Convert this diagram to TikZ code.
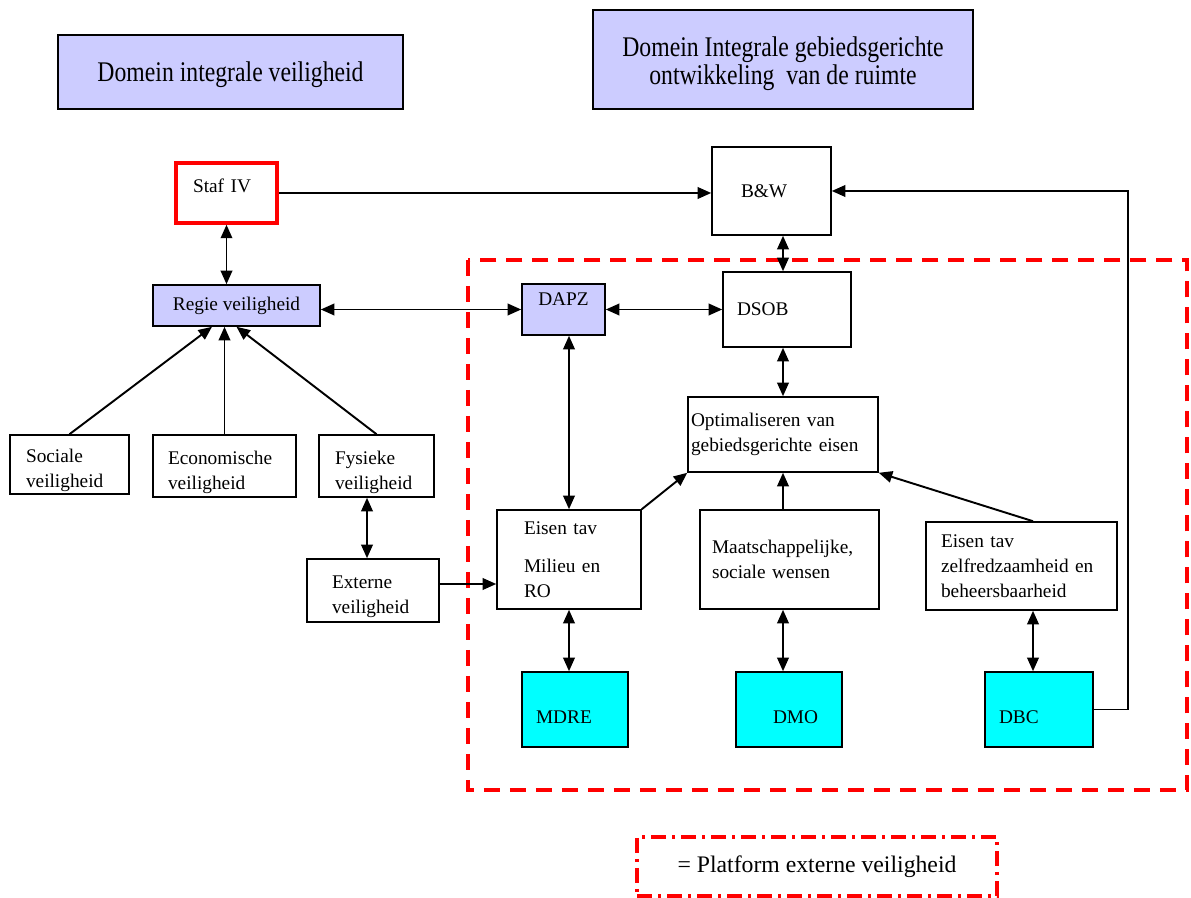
\documentclass[tikz,border=0pt]{standalone}
\usepackage{fontspec}
\setmainfont{Liberation Serif}
\usetikzlibrary{arrows.meta}
\definecolor{lavendel}{RGB}{204,204,255}
\definecolor{cyaan}{RGB}{0,255,255}
\newcommand{\zak}{\rule{0pt}{0.52cm}}
\newcommand{\hoog}[1]{\scalebox{1}[1.2]{#1}}
\begin{document}
\begin{tikzpicture}[x=0.02cm,y=-0.02cm,>={Triangle[length=0.27cm,width=0.23cm]}]
		\tikzstyle{blok}=[rectangle,draw=black,line width=0.9pt,fill=white,inner sep=0pt,font=\fontsize{11}{14.2}\selectfont,align=left]
		\tikzstyle{paars}=[blok,fill=lavendel,align=center]
		\tikzstyle{dienst}=[blok,fill=cyaan,text height=0.56cm,text depth=0pt]
		\tikzstyle{domein}=[blok,fill=lavendel,align=center,font=\fontsize{13.5}{16}\selectfont]
		\tikzstyle{link}=[line width=1.1pt,->]
		\tikzstyle{dlink}=[line width=1.1pt,<->]
		\useasboundingbox (0,0) rectangle (1191,898);
		% platform externe veiligheid
		\draw[red,line width=2pt,dash pattern=on 0.32cm off 0.2cm] (468,260) rectangle (1187,790);
		\begin{scope}
			\node [domein,minimum width=6.9cm,minimum height=1.48cm,text height=0.42cm,text depth=0.02cm] (domiv) at (230.5,72) {\hoog{Domein integrale veiligheid}};
			\node [domein,minimum width=7.6cm,minimum height=1.98cm] (domgo) at (783,59.5) {\rule{0pt}{0.58cm}\hoog{Domein Integrale gebiedsgerichte}\\\hoog{ontwikkeling\ \ van de ruimte}};
			\node [blok,draw=red,line width=2pt,minimum width=2.02cm,minimum height=1.2cm,text width=1.62cm,text height=0.26cm,text depth=0.28cm] (staf) at (226.5,193) {\hspace*{0.14cm}Staf IV};
			\node [paars,minimum width=3.34cm,minimum height=0.82cm] (regie) at (236.5,305.5) {Regie veiligheid};
			\node [blok,minimum width=2.38cm,minimum height=1.18cm,text width=1.74cm] (sociaal) at (69.5,464.5) {\zak Sociale\\veiligheid};
			\node [blok,minimum width=2.86cm,minimum height=1.24cm,text width=2.26cm] (econ) at (224.5,466) {\zak Economische\\veiligheid};
			\node [blok,minimum width=2.3cm,minimum height=1.24cm,text width=1.66cm] (fysiek) at (376.5,466) {\zak Fysieke\\veiligheid};
			\node [blok,minimum width=2.64cm,minimum height=1.26cm,text width=1.64cm] (extern) at (373,590.5) {\zak Externe\\veiligheid};
			\node [blok,minimum width=2.38cm,minimum height=1.76cm,text width=1.22cm] (bw) at (771.5,191) {B\&W};
			\node [paars,minimum width=1.66cm,minimum height=1.02cm,text height=0.26cm,text depth=0.4cm] (dapz) at (563.5,309.5) {DAPZ};
			\node [blok,minimum width=2.56cm,minimum height=1.5cm,text width=2.0cm] (dsob) at (787,309.5) {DSOB};
			\node [blok,minimum width=3.8cm,minimum height=1.5cm,text width=3.68cm] (optim) at (783,434.5) {Optimaliseren van\\gebiedsgerichte eisen};
			\node [blok,minimum width=2.88cm,minimum height=1.98cm,text width=1.8cm] (milieu) at (569,559.5) {Eisen tav\\[0.26cm]Milieu en\\RO};
			\node [blok,minimum width=3.58cm,minimum height=1.98cm,text width=3.1cm] (wensen) at (789.5,559.5) {Maatschappelijke,\\sociale wensen};
			\node [blok,minimum width=3.82cm,minimum height=1.76cm,text width=3.22cm] (zelfred) at (1021.5,566) {Eisen tav\\zelfredzaamheid en\\beheersbaarheid};
			\node [dienst,minimum width=2.12cm,minimum height=1.5cm,text width=1.56cm] (mdre) at (575,709.5) {MDRE};
			\node [dienst,minimum width=2.12cm,minimum height=1.5cm,text width=1.2cm] (dmo) at (789,709.5) {\hspace*{0.28cm}DMO};
			\node [dienst,minimum width=2.16cm,minimum height=1.5cm,text width=1.6cm] (dbc) at (1039,709.5) {DBC};
			\node [draw=red,line width=1.8pt,dash pattern=on 0.3cm off 0.12cm on 0.06cm off 0.12cm,minimum width=7.2cm,minimum height=1.18cm,font=\fontsize{13.5}{16}\selectfont] (legenda) at (817,866.5) {= Platform externe veiligheid};
			\draw[dlink] (staf.south) -- (staf.south |- regie.north);
			\draw[link] (sociaal.north) -- ([xshift=-0.49cm]regie.south);
			\draw[link] (econ.north) -- (econ.north |- regie.south);
			\draw[link] (fysiek.north) -- (regie.south);
			\draw[dlink] ([xshift=-0.12cm]extern.north) -- ([xshift=-0.12cm]extern.north |- fysiek.south);
			\draw[link] ([yshift=0.13cm]extern.east) -- ([yshift=0.13cm]extern.east -| milieu.west);
			\draw[dlink] (dapz.west -| regie.east) -- (dapz.west);
			\draw[dlink] (dapz.east) -- (dapz.east -| dsob.west);
			\draw[link] (staf.east) -- (staf.east -| bw.west);
			\draw[dlink] ([xshift=-0.08cm]dsob.north) -- ([xshift=-0.08cm]dsob.north |- bw.south);
			\draw[dlink] (optim.north) -- (optim.north |- dsob.south);
			\draw[dlink] (milieu.north) -- (milieu.north |- dapz.south);
			\draw[link] (milieu.north east) -- (optim.south west);
			\draw[link] (optim.south |- wensen.north) -- (optim.south);
			\draw[link] ([xshift=0.23cm]zelfred.north) -- (optim.south east);
			\draw[dlink] (milieu.south) -- (milieu.south |- mdre.north);
			\draw[dlink] ([xshift=-0.12cm]dmo.north) -- ([xshift=-0.12cm]dmo.north |- wensen.south);
			\draw[dlink] ([xshift=-0.12cm]dbc.north) -- ([xshift=-0.12cm]dbc.north |- zelfred.south);
			\coordinate (terug) at (1128,191);
			\draw[link] (dbc.east) -| (terug) -- (bw.east);
		\end{scope}
\end{tikzpicture}
\end{document}
